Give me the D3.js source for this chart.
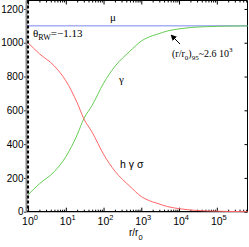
<!DOCTYPE html>
<html>
<head>
<meta charset="utf-8">
<script src="https://cdn.jsdelivr.net/npm/d3@7"></script>
<style>
  body { margin: 0; background: #fff; }
  svg { display: block; }
</style>
</head>
<body>
<script>
// values
var rValues  = [1, 2, 5, 10, 20, 30, 50, 100, 200, 500, 1000, 2000, 2600, 5000, 1e4, 2e4, 5e4, 1e5, 2e5, 6.5e5];
var hgsValues = [1000, 935, 862, 775, 645, 550, 470, 340, 240, 150, 90, 58, 50, 30, 18, 10, 5, 3, 1.5, 0.5];
var gammaValues = [100, 165, 238, 325, 455, 550, 630, 760, 860, 950, 1010, 1042, 1050, 1070, 1082, 1090, 1095, 1097, 1098.5, 1099.5];
var muValue = 1100;
var thetaRW = "=\u22121.13";
var yTicks = [0, 200, 400, 600, 800, 1000, 1200];
var xMajor = [1, 10, 100, 1000, 1e4, 1e5];

var svgWidth = 249, svgHeight = 247;
var plotLeft = 26.5, plotRight = 247.5, plotTop = 0.5, plotBottom = 211.7;
var sans = "Liberation Sans, Arial, sans-serif";
var serif = "Liberation Serif, Times New Roman, serif";

var svg = d3.select("body").append("svg")
    .attr("width", svgWidth)
    .attr("height", svgHeight);

var xscale = d3.scaleLog().domain([0.91, 6.5e5]).range([plotLeft, plotRight]);
var yscale = d3.scaleLinear().domain([0, 1250]).range([plotBottom, plotTop]);

var minor = xscale.ticks().filter(function(d) { return xMajor.indexOf(d) < 0; });

// bottom axis, ticks pointing up
var gx = svg.append("g").attr("transform", "translate(0," + plotBottom + ")");
gx.call(d3.axisBottom(xscale).tickValues(xMajor).tickSize(-4).tickFormat(""));
gx.append("g").call(d3.axisBottom(xscale).tickValues(minor).tickSize(-2).tickFormat(""));
gx.selectAll(".domain").remove();

// top axis, ticks pointing down
var gt = svg.append("g").attr("transform", "translate(0," + plotTop + ")");
gt.call(d3.axisTop(xscale).tickValues(xMajor).tickSize(-4).tickFormat(""));
gt.append("g").call(d3.axisTop(xscale).tickValues(minor).tickSize(-2).tickFormat(""));
gt.selectAll(".domain").remove();

// x tick labels 10^n
var xl = svg.append("g").attr("font-family", sans).attr("font-size", 10.5);
xMajor.forEach(function(v) {
  var t = xl.append("text").attr("x", xscale(v) + 2).attr("y", 225).attr("text-anchor", "middle");
  t.append("tspan").text("10");
  t.append("tspan").attr("font-size", 7.5).attr("dy", -5).text(Math.round(Math.log10(v)));
});

// left axis
var gy = svg.append("g").attr("transform", "translate(" + plotLeft + ",0)");
gy.call(d3.axisLeft(yscale).tickValues(yTicks).tickFormat(d3.format("d")).tickSize(2.5).tickPadding(0.5));
gy.selectAll("text").attr("font-family", sans).attr("font-size", 10).attr("fill", "#000");
gy.selectAll(".tick line").attr("stroke", "#333");
gy.select(".domain").remove();

// right axis, ticks pointing in
var gr = svg.append("g").attr("transform", "translate(" + plotRight + ",0)");
gr.call(d3.axisRight(yscale).tickValues(yTicks).tickSize(-3).tickFormat(""));
gr.select(".domain").remove();

// frame
svg.append("line").attr("x1", plotLeft).attr("x2", plotRight).attr("y1", plotTop).attr("y2", plotTop).attr("stroke", "#000");
svg.append("line").attr("x1", plotRight).attr("x2", plotRight).attr("y1", plotTop).attr("y2", plotBottom).attr("stroke", "#000");
svg.append("line").attr("x1", plotLeft).attr("x2", plotRight).attr("y1", plotBottom).attr("y2", plotBottom).attr("stroke", "#000").attr("stroke-width", 1.2);
svg.append("line").attr("x1", plotLeft).attr("x2", plotLeft).attr("y1", plotTop).attr("y2", plotBottom).attr("stroke", "#888").attr("stroke-width", 2);

var line = d3.line()
    .x(function(d) { return xscale(d[0]); })
    .y(function(d) { return yscale(d[1]); })
    .curve(d3.curveMonotoneX);

// mu
svg.append("line")
    .attr("x1", plotLeft).attr("x2", plotRight)
    .attr("y1", yscale(muValue)).attr("y2", yscale(muValue))
    .attr("stroke", "#7a88ee").attr("stroke-width", 1);

svg.append("path").datum(d3.zip(rValues, gammaValues))
    .attr("fill", "none").attr("stroke", "#66cc55").attr("stroke-width", 1)
    .attr("d", line);

svg.append("path").datum(d3.zip(rValues, hgsValues))
    .attr("fill", "none").attr("stroke", "#ff6666").attr("stroke-width", 1)
    .attr("d", line);

// dashed line at r/r0 = 1
svg.append("line")
    .attr("x1", xscale(1)).attr("x2", xscale(1))
    .attr("y1", plotTop).attr("y2", plotBottom)
    .attr("stroke", "#000").attr("stroke-width", 2)
    .attr("stroke-dasharray", "3,2");

// labels
svg.append("text").attr("x", 110).attr("y", 21).attr("font-family", serif).attr("font-size", 11).text("\u03bc");

var th = svg.append("text").attr("x", 33).attr("y", 37).attr("font-family", serif).attr("font-size", 11);
th.append("tspan").text("\u03b8");
th.append("tspan").attr("font-size", 8).attr("dy", 3).text("RW");
th.append("tspan").attr("dy", -3).text(thetaRW);

svg.append("text").attr("x", 119).attr("y", 83).attr("font-family", serif).attr("font-size", 11).text("\u03b3");

svg.append("text").attr("x", 120).attr("y", 168).attr("font-family", sans).attr("font-size", 10.5).text("h \u03b3 \u03c3");

var an = svg.append("text").attr("x", 172).attr("y", 57).attr("font-family", serif).attr("font-size", 10);
an.append("tspan").text("(r/r");
an.append("tspan").attr("font-size", 7).attr("dy", 3).text("0");
an.append("tspan").attr("dy", -3).text(")");
an.append("tspan").attr("font-size", 7).attr("dy", 3).text("95");
an.append("tspan").attr("dy", -3).text("~2.6 10");
an.append("tspan").attr("font-size", 7).attr("dy", -5).text("3");

// arrow
svg.append("defs").append("marker")
    .attr("id", "ah").attr("viewBox", "0 0 10 10").attr("refX", 9).attr("refY", 5)
    .attr("markerWidth", 6).attr("markerHeight", 6).attr("orient", "auto")
    .append("path").attr("d", "M0,0L10,5L0,10z").attr("fill", "#000");
svg.append("line")
    .attr("x1", 180).attr("y1", 44).attr("x2", 171).attr("y2", 35)
    .attr("stroke", "#000").attr("stroke-width", 1)
    .attr("marker-end", "url(#ah)");

var xt = svg.append("text").attr("x", 129).attr("y", 236).attr("font-family", sans).attr("font-size", 10);
xt.append("tspan").text("r/r");
xt.append("tspan").attr("font-size", 7.5).attr("dy", 4).text("0");
</script>
</body>
</html>
